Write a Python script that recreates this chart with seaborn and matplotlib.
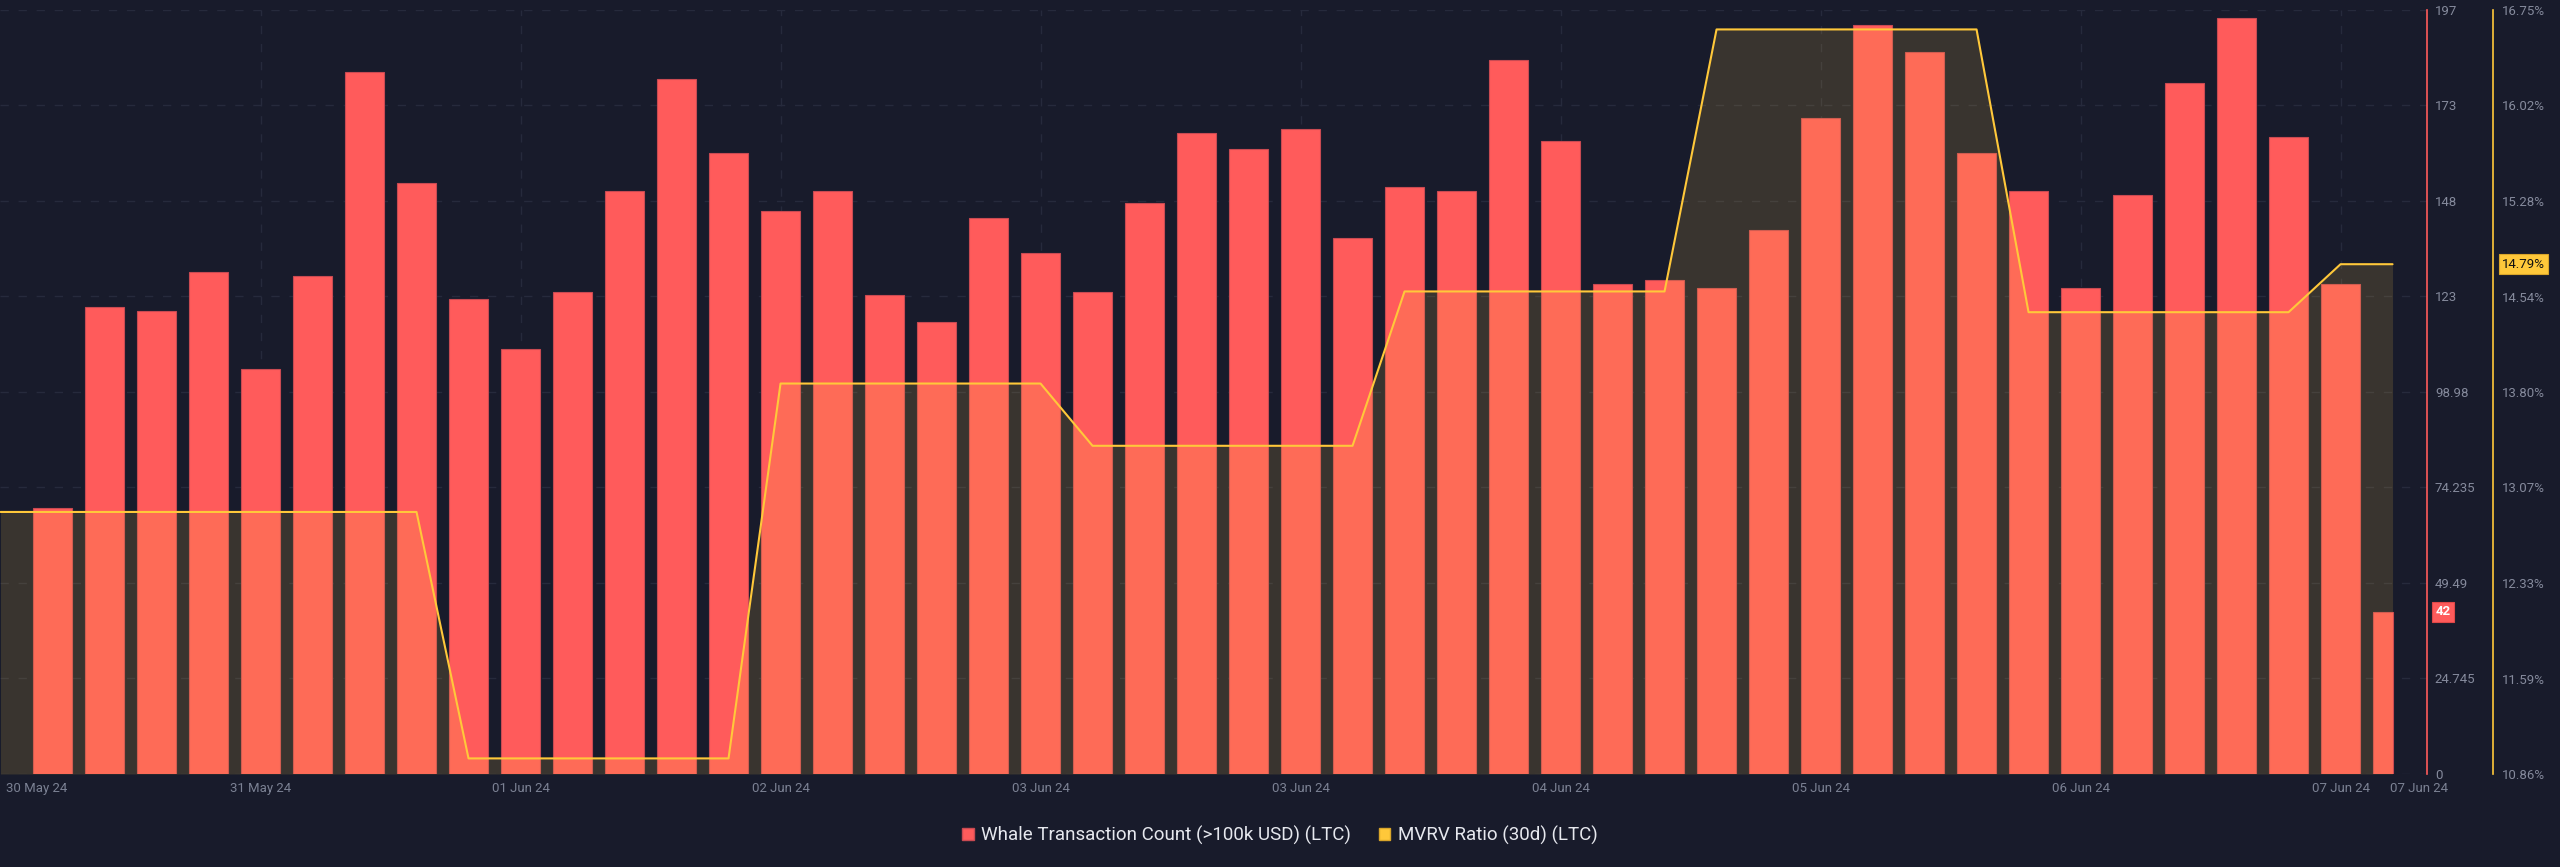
import numpy as np
import matplotlib
matplotlib.use("Agg")
import matplotlib.pyplot as plt
from matplotlib.patches import Patch
import seaborn as sns

# whale transaction count (>100k USD), one bar per period
whale_count = [69, 121, 120, 130, 105, 129, 182, 153, 123, 110,
               125, 151, 180, 161, 146, 151, 124, 117, 144, 135,
               125, 148, 166, 162, 167, 139, 152, 151, 185, 164,
               127, 128, 126, 141, 170, 194, 187, 161, 151, 126,
               150, 179, 196, 165, 127, 42]

# MVRV ratio (30d) in %, first value is the point before the first bar
mvrv = [12.88, 12.88, 12.88, 12.88, 12.88, 12.88, 12.88, 12.88, 12.88,
        10.98, 10.98, 10.98, 10.98, 10.98, 10.98,
        13.87, 13.87, 13.87, 13.87, 13.87, 13.87,
        13.39, 13.39, 13.39, 13.39, 13.39, 13.39,
        14.58, 14.58, 14.58, 14.58, 14.58, 14.58,
        16.60, 16.60, 16.60, 16.60, 16.60, 16.60,
        14.42, 14.42, 14.42, 14.42, 14.42, 14.42,
        14.79, 14.79]

date_ticks = [4, 9, 14, 19, 24, 29, 34, 39, 44]
date_labels = ["31 May 24", "01 Jun 24", "02 Jun 24", "03 Jun 24", "03 Jun 24",
               "04 Jun 24", "05 Jun 24", "06 Jun 24", "07 Jun 24"]
edge_ticks = [-0.3, 45.5]
edge_labels = ["30 May 24", "07 Jun 24"]

count_ticks = [0, 24.745, 49.49, 74.235, 98.98, 123.725, 148.47, 173.215, 197.96]
count_labels = ["0", "24.745", "49.49", "74.235", "98.98", "123", "148", "173", "197"]
mvrv_ticks = [10.86, 11.596, 12.3325, 13.069, 13.805, 14.541, 15.2775, 16.014, 16.75]
mvrv_labels = ["10.86%", "11.59%", "12.33%", "13.07%", "13.80%", "14.54%",
               "15.28%", "16.02%", "16.75%"]

bg = "#181b2b"
red = "#ff5b5b"
yellow = "#ffc83a"
grid_c = "#262a3c"
tick_c = "#858a9c"

sns.set_style("dark")
plt.rcParams["font.family"] = ["Roboto", "DejaVu Sans"]

fig = plt.figure(figsize=(25.6, 8.67), dpi=100, facecolor=bg)
ax = fig.add_axes([0, 0.1073, 0.948, 0.8812])
ax.set_facecolor(bg)

bar_pos = np.arange(len(whale_count))
sns.barplot(x=bar_pos, y=whale_count, ax=ax, color=red, saturation=1,
            width=0.75, edgecolor="#c94a52", linewidth=0.8, zorder=2)
# last bar is cut at the end of the data range
last = ax.patches[-1]
last.set_width(bar_pos[-1] - last.get_x())

ax2 = ax.twinx()

ax.set_xlim(-1.01, 45.66)
ax.set_ylim(0, 197.96)
ax.set_xticks(date_ticks, date_labels)
ax.set_xticks(edge_ticks, edge_labels, minor=True)
ax.set_yticks(count_ticks, count_labels)
ax.yaxis.tick_right()
ax.yaxis.set_label_position("right")
ax.tick_params(axis="y", length=0, pad=5.8, labelcolor=tick_c, labelsize=9.5)
ax.tick_params(axis="x", which="both", length=0, pad=6, labelcolor="#7b8193", labelsize=9.5)
ax.set_axisbelow(True)
ax.grid(axis="both", which="major", color=grid_c, linewidth=1, linestyle=(0, (6, 7)))
for s in ["left", "top", "bottom"]:
    ax.spines[s].set_visible(False)
ax.spines["right"].set_color(red)
ax.spines["right"].set_linewidth(1.2)
ax.set_xlabel("")
ax.set_ylabel("")

line_x = np.arange(-1, len(whale_count))
ax2.fill_between(line_x, mvrv, 10.86, color=(250 / 255, 200 / 255, 70 / 255),
                 alpha=0.15, linewidth=0)
sns.lineplot(x=line_x, y=mvrv, ax=ax2, color=yellow, linewidth=1.5)
ax2.set_ylim(10.86, 16.75)
ax2.set_yticks(mvrv_ticks, mvrv_labels)
ax2.tick_params(axis="y", length=0, pad=6.5, labelcolor=tick_c, labelsize=9.5)
ax2.spines["right"].set_position(("axes", 1.0272))
ax2.spines["right"].set_color(yellow)
ax2.spines["right"].set_linewidth(1.2)
for s in ["left", "top", "bottom"]:
    ax2.spines[s].set_visible(False)
ax2.grid(False)
ax2.set_ylabel("")

# current value tags
ax.text(1.0035, whale_count[-1], str(whale_count[-1]), transform=ax.get_yaxis_transform(),
        ha="left", va="center", color="white", fontsize=9.5, fontweight="bold",
        bbox=dict(boxstyle="square,pad=0.25", fc=red, ec="#e04848", lw=0.8))
ax2.text(1.031, mvrv[-1], f"{mvrv[-1]:.2f}%", transform=ax2.get_yaxis_transform(),
         ha="left", va="center", color="#111111", fontsize=9.5,
         bbox=dict(boxstyle="square,pad=0.25", fc=yellow, ec="#d9a52a", lw=0.8))

handles = [Patch(fc=red, ec="#c94a52"), Patch(fc=yellow, ec="#d9a52a")]
fig.legend(handles, ["Whale Transaction Count (>100k USD) (LTC)", "MVRV Ratio (30d) (LTC)"],
           loc="center", bbox_to_anchor=(0.5, 0.037), ncol=2, frameon=False,
           fontsize=13.5, handlelength=0.6, handleheight=0.6, handletextpad=0.4,
           columnspacing=1.5, labelcolor="#e6e8ee")

fig.savefig("out.png", dpi=100, facecolor=bg)
